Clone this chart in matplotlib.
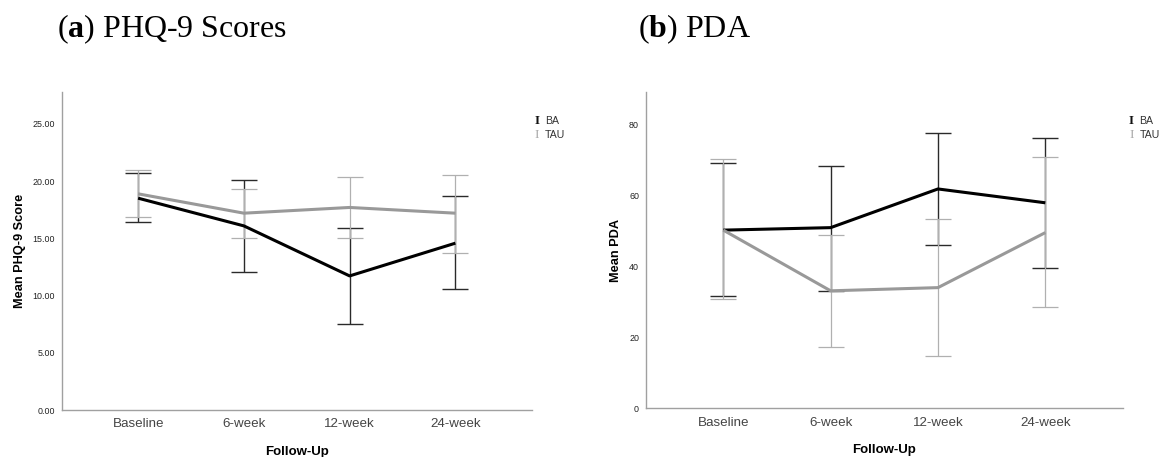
import matplotlib
matplotlib.use("Agg")
import matplotlib.pyplot as plt
import numpy as np

plt.rcParams['mathtext.fontset'] = 'custom'
plt.rcParams['mathtext.rm'] = 'Liberation Serif'
plt.rcParams['mathtext.bf'] = 'Liberation Serif:bold'

categories = ["Baseline", "6-week", "12-week", "24-week"]

# Panel (a) PHQ-9
phq_ba_mean = [18.5, 16.08, 11.71, 14.57]
phq_ba_low = [16.46, 12.03, 7.49, 10.55]
phq_ba_high = [20.66, 20.05, 15.91, 18.65]
phq_tau_mean = [18.88, 17.19, 17.69, 17.19]
phq_tau_low = [16.9, 15.0, 15.0, 13.75]
phq_tau_high = [20.95, 19.29, 20.31, 20.51]
phq_yticks = [0, 5, 10, 15, 20, 25]

# Panel (b) PDA
pda_ba_mean = [50.2, 50.9, 61.8, 57.9]
pda_ba_low = [31.5, 33.1, 46.0, 39.6]
pda_ba_high = [69.0, 68.4, 77.6, 76.1]
pda_tau_mean = [50.2, 33.1, 34.0, 49.5]
pda_tau_low = [30.7, 17.2, 14.7, 28.4]
pda_tau_high = [70.2, 48.7, 53.2, 70.7]
pda_yticks = [0, 20, 40, 60, 80]

W, H = 1163, 457
fig = plt.figure(figsize=(W / 100, H / 100), dpi=100)

BA_LINE = "#000000"
BA_ERR = "#2a2a2a"
TAU_LINE = "#999999"
TAU_ERR = "#b0b0b0"
SPINE = "#a0a0a0"


def panel(rect, mean_ba, lo_ba, hi_ba, mean_tau, lo_tau, hi_tau, yticks, ylim, fmt, ylabel):
    ax = fig.add_axes(rect)
    x = np.arange(len(categories))
    for m, lo, hi, lc, ec, ew in [(mean_ba, lo_ba, hi_ba, BA_LINE, BA_ERR, 1.0),
                                  (mean_tau, lo_tau, hi_tau, TAU_LINE, TAU_ERR, 0.9)]:
        m = np.array(m); lo = np.array(lo); hi = np.array(hi)
        ax.errorbar(x, m, yerr=[m - lo, hi - m], fmt='none', ecolor=ec,
                    elinewidth=ew, capsize=9.6, capthick=ew, zorder=2)
        ax.plot(x, m, color=lc, lw=2.2, zorder=3, solid_capstyle='butt')
    ax.set_xlim(-0.72, 3.72)
    ax.set_ylim(*ylim)
    ax.set_xticks(x)
    ax.set_xticklabels(categories, fontsize=9.6, color="#444444",
                       family="Liberation Sans")
    ax.set_yticks(yticks)
    ax.set_yticklabels([fmt.format(v) for v in yticks], fontsize=6.4,
                       color="#222222", family="Liberation Sans")
    ax.tick_params(axis='both', length=0)
    ax.tick_params(axis='y', pad=5)
    ax.tick_params(axis='x', pad=6)
    for s in ["top", "right"]:
        ax.spines[s].set_visible(False)
    for s in ["left", "bottom"]:
        ax.spines[s].set_color(SPINE)
        ax.spines[s].set_linewidth(1.0)
    ax.set_xlabel("Follow-Up", fontsize=9.5, fontweight="bold",
                  family="Liberation Sans", labelpad=11)
    ax.set_ylabel(ylabel, fontsize=9.2, fontweight="bold",
                  family="Liberation Sans", labelpad=5)
    return ax


ax1 = panel([62 / W, (H - 410) / H, 469.5 / W, 318.3 / H],
            phq_ba_mean, phq_ba_low, phq_ba_high,
            phq_tau_mean, phq_tau_low, phq_tau_high,
            phq_yticks, (0, 27.8), "{:.2f}", "Mean PHQ-9 Score")
ax2 = panel([646 / W, (H - 408.3) / H, 476.6 / W, 316.6 / H],
            pda_ba_mean, pda_ba_low, pda_ba_high,
            pda_tau_mean, pda_tau_low, pda_tau_high,
            pda_yticks, (0, 89.2), "{:.0f}", "Mean PDA")

# Legends
for lx in (537, 1131.5):
    fig.text(lx / W, 1 - 121 / H, "I", fontsize=9.5, family="Liberation Serif",
             fontweight="bold", color="#111111", ha="center", va="center")
    fig.text((lx + 8) / W, 1 - 121 / H, "BA", fontsize=7.6, family="Liberation Sans",
             color="#333333", ha="left", va="center")
    fig.text(lx / W, 1 - 134.5 / H, "I", fontsize=9.5, family="Liberation Serif",
             color="#aaaaaa", ha="center", va="center")
    fig.text((lx + 8) / W, 1 - 134.5 / H, "TAU", fontsize=7.6, family="Liberation Sans",
             color="#333333", ha="left", va="center")

# Titles
fig.text(57 / W, 1 - 29 / H, r"($\mathbf{a}$) PHQ-9 Scores", fontsize=23,
         family="Liberation Serif", ha="left", va="center")
fig.text(638 / W, 1 - 29 / H, r"($\mathbf{b}$) PDA", fontsize=23,
         family="Liberation Serif", ha="left", va="center")

fig.savefig("out.png", dpi=100, facecolor="white")
